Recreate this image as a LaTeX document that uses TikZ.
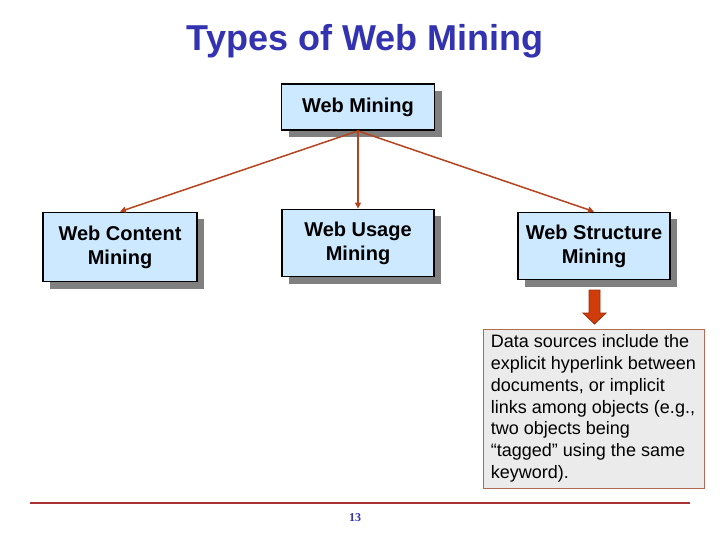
\documentclass[tikz,border=0pt]{standalone}
\usepackage{fontspec}
\setmainfont{Liberation Sans}
\usetikzlibrary{arrows.meta,shadows}
\definecolor{titleblue}{HTML}{3333B2}
\definecolor{boxblue}{HTML}{CCE9FF}
\definecolor{linkred}{HTML}{B4441E}
\definecolor{notefill}{HTML}{EBEBEB}
\definecolor{notedraw}{HTML}{B06A55}
\definecolor{arrowfill}{HTML}{D03C0A}
\definecolor{arrowdraw}{HTML}{9A2E08}
\definecolor{rulered}{HTML}{A83232}
\tikzset{
  minebox/.style={draw=black,line width=1.8pt,fill=boxblue,align=center,inner sep=0pt,
    font=\fontsize{20}{24}\selectfont\bfseries,
    drop shadow={shadow xshift=7pt,shadow yshift=-7pt,fill=black!50,opacity=1}},
  link/.style={draw=linkred,line width=1.5pt,-{Triangle[length=6pt,width=6pt]}}
}
\begin{document}
\begin{tikzpicture}[x=1pt,y=-1pt]
  \useasboundingbox[fill=white] (0,0) rectangle (720,540);
  \node[font=\fontsize{36}{42}\selectfont\bfseries,text=titleblue] (title) at (365,41) {Types of Web Mining};
  \node[minebox,minimum width=153pt,minimum height=46pt] (web) at (358,107) {Web Mining};
  \node[minebox,minimum width=154pt,minimum height=69pt] (content) at (120,247) {Web Content\\Mining};
  \node[minebox,minimum width=152pt,minimum height=67pt] (usage) at (358,243) {Web Usage\\Mining};
  \node[minebox,minimum width=152pt,minimum height=67pt] (struct) at (594,246) {Web Structure\\Mining};
  \draw[link] (web.south) -- (content.north);
  \draw[link] (web.south) -- (usage.north);
  \draw[link] (web.south) -- (struct.north);
  % block arrow down to the note
  \filldraw[fill=arrowfill,draw=arrowdraw,line width=0.8pt] (589,290) -- (600,290) -- (600,313) -- (606,313)
    -- (594.5,324) -- (583,313) -- (589,313) -- cycle;
  \node[draw=notedraw,line width=1pt,fill=notefill,minimum width=221pt,minimum height=159pt,
    align=left,inner sep=4pt,font=\fontsize{18}{21.8}\selectfont] (note) at (593.5,408.5)
    {Data sources include the\\explicit hyperlink between\\documents, or implicit\\links among objects (e.g.,\\two objects being\\``tagged'' using the same\\keyword).};
  \coordinate (rulel) at (30,503);
  \coordinate (ruler) at (690,503);
  \draw[rulered,line width=2.5pt] (rulel) -- (ruler);
  \node[text=titleblue,font=\fontsize{12}{14}\selectfont\fontspec{Liberation Serif}\bfseries] (page) at (355,518) {13};
\end{tikzpicture}
\end{document}
